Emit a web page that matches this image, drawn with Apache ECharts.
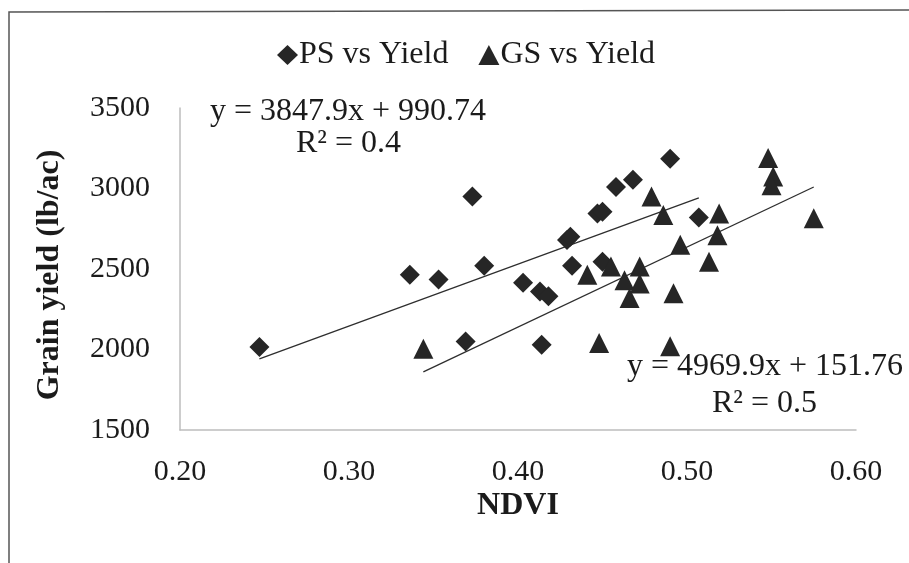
<!DOCTYPE html>
<html>
<head>
<meta charset="utf-8">
<script src="https://cdn.jsdelivr.net/npm/echarts@6/dist/echarts.min.js"></script>
<style>
  html, body { margin: 0; padding: 0; background: #fff; }
  #chart { width: 909px; height: 563px; }
</style>
</head>
<body>
<div id="chart"></div>
<script>
// NDVI vs grain yield, two growth stages
const psNdvi  = [0.247, 0.336, 0.353, 0.369, 0.373, 0.380, 0.403, 0.413, 0.414, 0.418,
                 0.429, 0.431, 0.432, 0.447, 0.450, 0.450, 0.458, 0.468, 0.490, 0.507];
const psYield = [2015, 2465, 2435, 2050, 2950, 2520, 2415, 2360, 2030, 2330,
                 2680, 2700, 2520, 2845, 2855, 2545, 3010, 3055, 3185, 2820];

const gsNdvi  = [0.344, 0.441, 0.448, 0.455, 0.463, 0.466, 0.472, 0.472, 0.479, 0.486,
                 0.490, 0.492, 0.496, 0.513, 0.519, 0.518, 0.548, 0.551, 0.550, 0.575];
const gsYield = [2005, 2465, 2040, 2515, 2430, 2320, 2515, 2410, 2950, 2835,
                 2020, 2350, 2650, 2545, 2845, 2710, 3190, 3075, 3020, 2815];

// Linear trend fits as reported on the chart
const psFit = { slope: 3847.9, intercept: 990.74, r2: '0.4' };
const gsFit = { slope: 4969.9, intercept: 151.76, r2: '0.5' };

const xTicks = [0.20, 0.30, 0.40, 0.50, 0.60];
const yTicks = [1500, 2000, 2500, 3000, 3500];

const FONT = '"Liberation Serif", "Times New Roman", serif';
const INK = '#1b1b1b';
const MARK = '#262626';

function pairs(xs, ys) { return xs.map((x, i) => [x, ys[i]]); }
function fitLine(xs, fit) {
  const lo = Math.min(...xs), hi = Math.max(...xs);
  return [[lo, fit.slope * lo + fit.intercept], [hi, fit.slope * hi + fit.intercept]];
}
function eqText(fit) {
  return 'y = ' + fit.slope + 'x + ' + fit.intercept;
}

const chart = echarts.init(document.getElementById('chart'), null, { renderer: 'canvas' });

chart.setOption({
  backgroundColor: '#ffffff',
  animation: false,
  textStyle: { fontFamily: FONT, color: INK },
  grid: { left: 180, right: 53, top: 108, bottom: 133, containLabel: false },
  legend: {
    data: [
      { name: 'PS vs Yield', icon: 'diamond' },
      { name: 'GS vs Yield', icon: 'triangle' }
    ],
    left: 272, top: 34,
    itemWidth: 21, itemHeight: 20, itemGap: 30,
    itemStyle: { opacity: 1 },
    textStyle: { fontFamily: FONT, fontSize: 32, color: INK, padding: [0, 0, 0, -4] }
  },
  xAxis: {
    type: 'value',
    min: xTicks[0], max: xTicks[xTicks.length - 1], interval: 0.1,
    name: 'NDVI', nameLocation: 'middle', nameGap: 60, nameMoveOverlap: false,
    nameTextStyle: { fontFamily: FONT, fontSize: 32, fontWeight: 'bold', color: INK },
    axisLine: { show: true, lineStyle: { color: '#bdbdbd', width: 1.5 } },
    axisTick: { show: false },
    splitLine: { show: false },
    axisLabel: {
      fontFamily: FONT, fontSize: 30, color: INK, margin: 27,
      formatter: v => v.toFixed(2)
    }
  },
  yAxis: {
    type: 'value',
    min: yTicks[0], max: yTicks[yTicks.length - 1], interval: 500,
    name: 'Grain yield (lb/ac)', nameLocation: 'middle', nameGap: 114, nameMoveOverlap: false,
    nameTextStyle: {
      fontFamily: FONT, fontSize: 32, fontWeight: 'bold', color: INK,
      padding: [0, 12, 0, 0]
    },
    axisLine: { show: true, lineStyle: { color: '#bdbdbd', width: 1.5 } },
    axisTick: { show: false },
    splitLine: { show: false },
    axisLabel: { fontFamily: FONT, fontSize: 30, color: INK, margin: 30, formatter: v => String(v) }
  },
  series: [
    {
      name: 'PS fit', type: 'line', data: fitLine(psNdvi, psFit),
      symbol: 'none', silent: true, z: 1,
      lineStyle: { color: '#2e2e2e', width: 1.3 }
    },
    {
      name: 'GS fit', type: 'line', data: fitLine(gsNdvi, gsFit),
      symbol: 'none', silent: true, z: 1,
      lineStyle: { color: '#2e2e2e', width: 1.3 }
    },
    {
      name: 'PS vs Yield', type: 'scatter', data: pairs(psNdvi, psYield),
      symbol: 'diamond', symbolSize: 20, z: 3,
      itemStyle: { color: MARK, opacity: 1 }
    },
    {
      name: 'GS vs Yield', type: 'scatter', data: pairs(gsNdvi, gsYield),
      symbol: 'triangle', symbolSize: 20, z: 3,
      itemStyle: { color: MARK, opacity: 1 }
    }
  ],
  graphic: [
    // outer frame (left and top edges)
    {
      type: 'polyline', silent: true,
      shape: { points: [[9, 563], [9, 12], [909, 10]] },
      style: { stroke: '#555', lineWidth: 1.5, fill: null }
    },
    {
      type: 'text', left: 210, top: 96, silent: true,
      style: { text: eqText(psFit), font: '32px ' + FONT, fill: INK }
    },
    {
      type: 'text', left: 296, top: 128, silent: true,
      style: { text: 'R² = ' + psFit.r2, font: '32px ' + FONT, fill: INK }
    },
    {
      type: 'text', left: 627, top: 351, silent: true, z: 10,
      style: { text: eqText(gsFit), font: '32px ' + FONT, fill: INK }
    },
    {
      type: 'text', left: 712, top: 388, silent: true,
      style: { text: 'R² = ' + gsFit.r2, font: '32px ' + FONT, fill: INK }
    }
  ]
});
</script>
</body>
</html>
